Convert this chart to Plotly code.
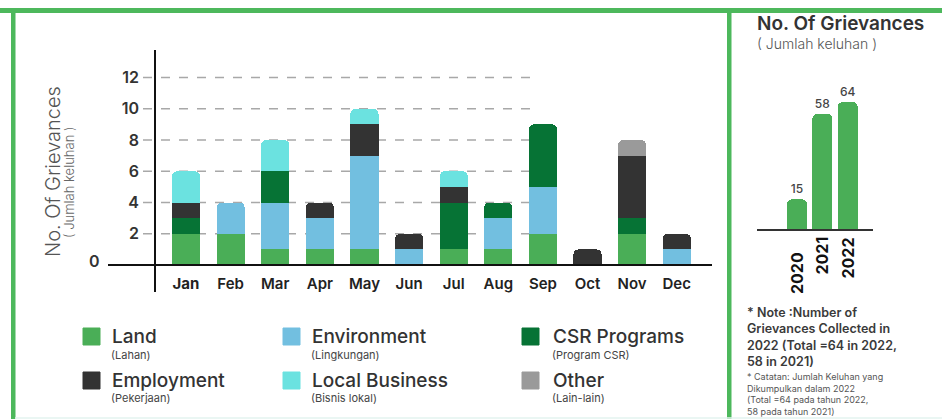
import plotly.graph_objects as go

W, H = 942, 419

# Monthly grievances by category (stack order bottom -> top)
months = ["Jan", "Feb", "Mar", "Apr", "May", "Jun", "Jul", "Aug", "Sep", "Oct", "Nov", "Dec"]
land = [2, 2, 1, 1, 1, 0, 1, 1, 2, 0, 2, 0]
environment = [0, 2, 3, 2, 6, 1, 0, 2, 3, 0, 0, 1]
csr_programs = [1, 0, 2, 0, 0, 0, 3, 1, 4, 0, 1, 0]
employment = [1, 0, 0, 1, 2, 1, 1, 0, 0, 1, 4, 1]
local_business = [2, 0, 2, 0, 1, 0, 1, 0, 0, 0, 0, 0]
other = [0, 0, 0, 0, 0, 0, 0, 0, 0, 0, 1, 0]

# Yearly totals
years = ["2020", "2021", "2022"]
year_totals = [15, 58, 64]

y_ticks = [2, 4, 6, 8, 10, 12]

LAND = "#4AAE57"
ENV = "#72BFE0"
CSR = "#067335"
EMP = "#333333"
LOCAL = "#6BE2E0"
OTHER = "#9A9A9A"
FRAME = "#4DB85C"
TEXT = "#333333"
FONT = "Inter"

series = [
    ("Land", "(Lahan)", land, LAND),
    ("Environment", "(Lingkungan)", environment, ENV),
    ("CSR Programs", "(Program CSR)", csr_programs, CSR),
    ("Employment", "(Pekerjaan)", employment, EMP),
    ("Local Business", "(Bisnis lokal)", local_business, LOCAL),
    ("Other", "(Lain-lain)", other, OTHER),
]


def px(x):
    return x / W


def py(y):
    return 1 - y / H


fig = go.Figure()

for name, sub, vals, col in series:
    fig.add_trace(go.Bar(
        x=months, y=vals, name=name, width=0.63,
        marker=dict(color=col, line=dict(width=0)),
        xaxis="x", yaxis="y",
        hovertemplate="%{x}: %{y}<extra>" + name + "</extra>",
    ))

fig.add_trace(go.Bar(
    x=years, y=year_totals, width=0.79,
    marker=dict(color=LAND, line=dict(width=0)),
    text=year_totals, textposition="outside", cliponaxis=False,
    textfont=dict(family=FONT, size=12, color="#444444", weight=500),
    xaxis="x2", yaxis="y2", hovertemplate="%{x}: %{y}<extra></extra>",
))

shapes = []
# dashed reference lines
for v in y_ticks:
    shapes.append(dict(type="line", xref="paper", yref="y", x0=px(143), x1=px(531),
                       y0=v, y1=v, layer="below",
                       line=dict(color="#A8A8A8", width=1.5, dash="dash")))
# axis lines
shapes.append(dict(type="line", xref="paper", yref="paper", x0=px(155), x1=px(155),
                   y0=py(50), y1=py(292), line=dict(color="#111111", width=2)))
shapes.append(dict(type="line", xref="paper", yref="paper", x0=px(108), x1=px(712),
                   y0=py(265), y1=py(265), line=dict(color="#111111", width=2)))
# panel frame
shapes.append(dict(type="rect", xref="paper", yref="paper", x0=0, x1=1,
                   y0=py(13), y1=py(8), fillcolor=FRAME, line=dict(width=0)))
shapes.append(dict(type="rect", xref="paper", yref="paper", x0=px(11), x1=px(15.5),
                   y0=0, y1=py(8), fillcolor=FRAME, line=dict(width=0)))
shapes.append(dict(type="rect", xref="paper", yref="paper", x0=px(727), x1=px(731.5),
                   y0=0, y1=py(8), fillcolor=FRAME, line=dict(width=0)))
shapes.append(dict(type="line", xref="paper", yref="paper", x0=px(15), x1=1,
                   y0=py(418), y1=py(418), line=dict(color="#E3F3EF", width=1.5)))

annotations = []
# legend
leg_cols = [(83, 110), (283, 310), (522, 551)]
leg_rows = [(328, 336, 355), (372, 380, 398)]
for i, (name, sub, vals, col) in enumerate(series):
    sx, tx = leg_cols[i % 3]
    sy, ty, suby = leg_rows[i // 3]
    shapes.append(dict(type="rect", xref="paper", yref="paper", x0=px(sx), x1=px(sx + 17),
                       y0=py(sy + 17), y1=py(sy), fillcolor=col,
                       line=dict(color=col, width=1)))
    annotations.append(dict(text=name, x=px(tx), y=py(ty), xref="paper", yref="paper",
                            xanchor="left", yanchor="middle", showarrow=False,
                            font=dict(family=FONT, size=19, color=TEXT, weight=500)))
    annotations.append(dict(text=sub, x=px(tx - 1), y=py(suby), xref="paper", yref="paper",
                            xanchor="left", yanchor="middle", showarrow=False,
                            font=dict(family=FONT, size=11, color="#444444", weight=400)))

# y axis titles
annotations.append(dict(text="No. Of Grievances", x=px(53), y=py(172), xref="paper", yref="paper",
                        textangle=-90, showarrow=False, xanchor="center", yanchor="middle",
                        font=dict(family=FONT, size=20, color="#555555", weight=300)))
annotations.append(dict(text="( Jumlah keluhan )", x=px(69), y=py(183), xref="paper", yref="paper",
                        textangle=-90, showarrow=False, xanchor="center", yanchor="middle",
                        font=dict(family=FONT, size=13, color="#666666", weight=300)))
annotations.append(dict(text="0", x=px(94), y=py(261), xref="paper", yref="paper",
                        showarrow=False, xanchor="center", yanchor="middle",
                        font=dict(family=FONT, size=16, color=TEXT, weight=600)))

# right panel
annotations.append(dict(text="No. Of Grievances", x=px(755), y=py(24), xref="paper", yref="paper",
                        showarrow=False, xanchor="left", yanchor="middle",
                        font=dict(family=FONT, size=19, color=TEXT, weight=600)))
annotations.append(dict(text="( Jumlah keluhan )", x=px(755), y=py(43), xref="paper", yref="paper",
                        showarrow=False, xanchor="left", yanchor="middle",
                        font=dict(family=FONT, size=14, color="#555555", weight=300)))
year_label_x = [797, 821.5, 847.5]
year_label_y = [273, 256, 258]
for yr, lx, ly in zip(years, year_label_x, year_label_y):
    annotations.append(dict(text=yr, x=px(lx), y=py(ly), xref="paper", yref="paper",
                            textangle=-90, showarrow=False, xanchor="center", yanchor="middle",
                            font=dict(family=FONT, size=16, color="#111111", weight=700)))

note_lines = ["* Note :Number of", "Grievances Collected in",
              "2022 (Total =64 in 2022,", "58 in 2021)"]
annotations.append(dict(text="<br>".join(note_lines), x=px(745), y=py(303),
                        xref="paper", yref="paper", showarrow=False,
                        xanchor="left", yanchor="top", align="left",
                        font=dict(family=FONT, size=12.5, color="#3A3A3A", weight=600)))
small_lines = ["* Catatan: Jumlah Keluhan yang", "Dikumpulkan dalam 2022",
               "(Total =64 pada tahun 2022,", "58 pada tahun 2021)"]
annotations.append(dict(text="<br>".join(small_lines), x=px(745), y=py(369),
                        xref="paper", yref="paper", showarrow=False,
                        xanchor="left", yanchor="top", align="left",
                        font=dict(family=FONT, size=9, color="#555555", weight=400)))

fig.update_layout(
    width=W, height=H,
    margin=dict(l=0, r=0, t=0, b=0),
    paper_bgcolor="white", plot_bgcolor="white",
    barmode="stack", barcornerradius=5,
    showlegend=False,
    font=dict(family=FONT, color=TEXT),
    xaxis=dict(domain=[px(154), px(712)], type="category", categoryorder="array",
               categoryarray=months, range=[-0.717, 11.79],
               tickvals=months, ticktext=["<b>Jan</b>"] + months[1:],
               showgrid=False, zeroline=False, showline=False, ticks="",
               ticklabelstandoff=8,
               tickfont=dict(family=FONT, size=15, color="#222222", weight=600)),
    yaxis=dict(domain=[py(265), py(50)], range=[0, 13.76],
               tickvals=y_ticks, showgrid=False, zeroline=False, showline=False, ticks="",
               ticklabelstandoff=14,
               tickfont=dict(family=FONT, size=16, color=TEXT, weight=600)),
    xaxis2=dict(domain=[px(757), px(873)], type="category", categoryorder="array",
                categoryarray=years, range=[-1.58, 3.0], anchor="y2",
                showticklabels=False, showgrid=False, zeroline=False,
                showline=True, linecolor="#333333", linewidth=2, ticks=""),
    yaxis2=dict(domain=[py(229), py(80)], range=[0, 75.1], anchor="x2",
                visible=False),
    shapes=shapes,
    annotations=annotations,
)

fig.write_html("out.html")
